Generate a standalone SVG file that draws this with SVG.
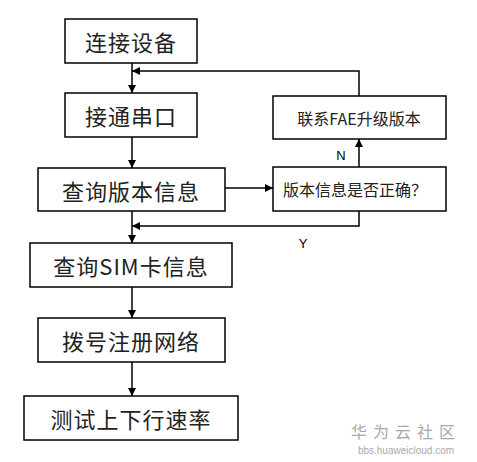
<svg xmlns="http://www.w3.org/2000/svg" width="477" height="462" viewBox="0 0 477 462">
<style>
.box{fill:#fff;stroke:#000;stroke-width:1.5}
.t{font-family:"Noto Sans CJK SC","Noto Sans",sans-serif;font-size:22px;fill:#222;text-anchor:middle;dominant-baseline:central;letter-spacing:1px}
.s{font-family:"Noto Sans CJK SC","Noto Sans",sans-serif;font-size:16px;fill:#222;text-anchor:middle;dominant-baseline:central}
.l{font-family:"Liberation Sans",sans-serif;font-size:13px;fill:#000;text-anchor:middle;dominant-baseline:central}
.c{fill:none;stroke:#000;stroke-width:1.5}
</style>
<defs>
<marker id="ah" viewBox="0 0 10 10" refX="10" refY="5" markerWidth="8" markerHeight="8" markerUnits="userSpaceOnUse" orient="auto">
<path d="M0,0 L10,5 L0,10 Z" fill="#000"/>
</marker>
</defs>
<rect width="477" height="462" fill="#fff"/>
<g id="connectors">
<line class="c" x1="132" y1="63" x2="132" y2="93" marker-end="url(#ah)"/>
<line class="c" x1="132" y1="137" x2="132" y2="168" marker-end="url(#ah)"/>
<line class="c" x1="132" y1="211" x2="132" y2="243" marker-end="url(#ah)"/>
<line class="c" x1="132" y1="287" x2="132" y2="318" marker-end="url(#ah)"/>
<line class="c" x1="132" y1="362" x2="132" y2="396" marker-end="url(#ah)"/>
<line class="c" x1="225" y1="188" x2="273" y2="188" marker-end="url(#ah)"/>
<line class="c" x1="359" y1="167" x2="359" y2="139" marker-end="url(#ah)"/>
<polyline class="c" points="359,96 359,71 132,71" marker-end="url(#ah)"/>
<polyline class="c" points="359,211 359,226 132,226" marker-end="url(#ah)"/>
<text class="l" x="341" y="155">N</text>
<text class="l" x="303" y="243">Y</text>
</g>
<g id="n1"><rect class="box" x="65" y="19" width="132" height="44"/><text class="t" x="131" y="41">连接设备</text></g>
<g id="n2"><rect class="box" x="65" y="93" width="132" height="44"/><text class="t" x="131" y="115">接通串口</text></g>
<g id="n3"><rect class="box" x="38" y="168" width="187" height="43"/><text class="t" x="131" y="189.5">查询版本信息</text></g>
<g id="n4"><rect class="box" x="273" y="167" width="173" height="44"/><text class="s" x="355" y="189">版本信息是否正确？</text></g>
<g id="n5"><rect class="box" x="273" y="96" width="173" height="43"/><text class="s" x="359" y="117.5">联系FAE升级版本</text></g>
<g id="n6"><rect class="box" x="30" y="243" width="202" height="44"/><text class="t" x="131" y="265">查询SIM卡信息</text></g>
<g id="n7"><rect class="box" x="38" y="318" width="187" height="44"/><text class="t" x="131" y="340">拨号注册网络</text></g>
<g id="n8"><rect class="box" x="24" y="396" width="214" height="44"/><text class="t" x="131" y="418">测试上下行速率</text></g>
<g id="watermark">
<text x="406" y="438" font-family="'Noto Sans CJK SC',sans-serif" font-size="16" fill="#aaa" text-anchor="middle" letter-spacing="6">华为云社区</text>
<text x="406" y="454" font-family="'Liberation Sans',sans-serif" font-size="10" fill="#aaa" text-anchor="middle">bbs.huaweicloud.com</text>
</g>
</svg>
